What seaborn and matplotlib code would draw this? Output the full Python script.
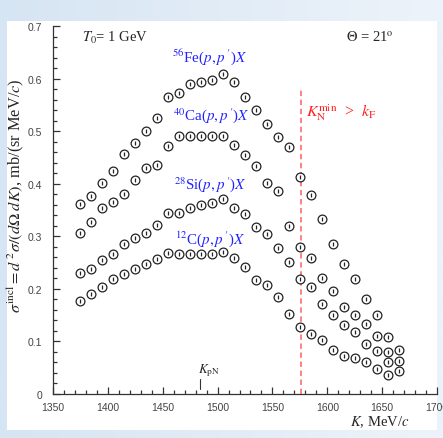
import pandas as pd
import seaborn as sb
import matplotlib.pyplot as plt
import numpy as np

from matplotlib.path import Path
from matplotlib.patches import Rectangle
from matplotlib.ticker import MultipleLocator, FuncFormatter

# K, MeV/c
K = [1375, 1385, 1395, 1405, 1415, 1425, 1435, 1445, 1455, 1465,
     1475, 1485, 1495, 1505, 1515, 1525, 1535, 1545, 1555, 1565,
     1575, 1585, 1595, 1605, 1615, 1625, 1635, 1645, 1655, 1665]

fe56 = [0.361, 0.377, 0.401, 0.425, 0.456, 0.478, 0.500, 0.525, 0.565, 0.573,
        0.589, 0.594, 0.597, 0.608, 0.594, 0.564, 0.540, 0.513, 0.488, 0.470,
        0.413, 0.378, 0.333, 0.285, 0.248, 0.218, 0.181, 0.151, 0.108, 0.084]
ca40 = [0.307, 0.328, 0.354, 0.365, 0.380, 0.407, 0.429, 0.436, 0.471, 0.491,
        0.491, 0.491, 0.491, 0.491, 0.474, 0.454, 0.433, 0.402, 0.386, 0.319,
        0.280, 0.258, 0.220, 0.195, 0.166, 0.150, 0.134, 0.110, 0.079, 0.062]
si28 = [0.230, 0.238, 0.255, 0.267, 0.285, 0.297, 0.307, 0.321, 0.344, 0.344,
        0.354, 0.359, 0.363, 0.370, 0.354, 0.342, 0.317, 0.305, 0.278, 0.252,
        0.218, 0.203, 0.172, 0.151, 0.132, 0.117, 0.096, 0.082, 0.061, 0.043]
c12 = [0.177, 0.190, 0.204, 0.219, 0.229, 0.237, 0.248, 0.256, 0.269, 0.267,
       0.267, 0.267, 0.267, 0.270, 0.258, 0.242, 0.216, 0.207, 0.184, 0.153,
       0.128, 0.115, 0.103, 0.084, 0.073, 0.068, 0.061, 0.048, 0.036]

nuclei = ["56Fe", "40Ca", "28Si", "12C"]
series_labels = [r"$^{56}$Fe($p,p\,'$)$X$", r"$^{40}$Ca($p,p\,'$)$X$",
                 r"$^{28}$Si($p,p\,'$)$X$", r"$^{12}$C($p,p\,'$)$X$"]
label_pos = [(1493, 0.643), (1494, 0.531), (1493, 0.400), (1493, 0.297)]

K_cut = 1576   # K_N^min > k_F
K_pN = 1484


def point_marker():
    """open circle with a small error bar inside"""
    circle = Path.unit_circle()
    bar = Path([(0, -0.45), (0, 0.45)], [Path.MOVETO, Path.LINETO])
    return Path.make_compound_path(circle, bar)


def main():
    rows = []
    for name, vals in zip(nuclei, [fe56, ca40, si28, c12]):
        for k, v in zip(K, vals):
            rows.append({"K": k, "sigma": v, "nucleus": name})
    df = pd.DataFrame(rows)

    sb.set_style("ticks")
    plt.rcParams["font.family"] = ["Liberation Sans", "DejaVu Sans"]
    plt.rcParams["font.serif"] = ["Liberation Serif", "DejaVu Serif"]
    plt.rcParams["mathtext.fontset"] = "stix"

    fig = plt.figure(figsize=(4.43, 4.39), dpi=100)

    # light blue frame with white panel
    bg = fig.add_axes([0, 0, 1, 1], zorder=-10)
    grad = np.linspace(0, 1, 256)[None, :]
    cmap = sb.blend_palette(["#d6e5f3", "#edf3fa"], as_cmap=True)
    bg.imshow(grad, aspect="auto", extent=[0, 1, 0, 1], cmap=cmap)
    bg.add_patch(Rectangle((7 / 443, 8 / 439), 430 / 443, 409 / 439,
                           color="white", lw=0))
    bg.set_xlim(0, 1)
    bg.set_ylim(0, 1)
    bg.axis("off")

    ax = fig.add_axes([53 / 443, 44 / 439, 384 / 443, 368 / 439])
    ax.set_facecolor("none")

    ax.axvline(K_cut, ymin=0, ymax=0.584 / 0.7, color="#ff7878",
               ls=(0, (3, 2)), lw=1.3, zorder=1)

    sb.scatterplot(data=df, x="K", y="sigma", marker=point_marker(), s=40,
                   color="white", edgecolor="#222222", linewidth=0.9,
                   ax=ax, zorder=3, legend=False)

    ax.set_xlim(1350, 1700)
    ax.set_ylim(0, 0.7)
    ax.set_xlabel("")
    ax.set_ylabel("")
    ax.xaxis.set_major_locator(MultipleLocator(50))
    ax.xaxis.set_minor_locator(MultipleLocator(10))
    ax.yaxis.set_major_locator(MultipleLocator(0.1))
    ax.yaxis.set_minor_locator(MultipleLocator(0.02))
    ax.yaxis.set_major_formatter(FuncFormatter(lambda v, p: "0" if abs(v) < 1e-9 else f"{v:.1f}"))
    ax.tick_params(which="both", direction="in", colors="#333333", width=0.9,
                   labelcolor="#444444", labelsize=7.5)
    ax.tick_params(which="major", length=5)
    ax.tick_params(which="minor", length=3)
    ax.tick_params(axis="x", pad=6)
    ax.tick_params(axis="y", pad=8)
    sb.despine(ax=ax)
    for s in ["left", "bottom"]:
        ax.spines[s].set_color("#333333")
        ax.spines[s].set_linewidth(0.9)

    serif = dict(family="serif")
    ax.text(1376, 0.679, r"$T_0$= 1 GeV", fontsize=10.5, va="center", ha="left", **serif)
    ax.text(1617, 0.679, r"$\Theta$ = 21$^{\rm o}$", fontsize=10.5, va="center", ha="left", **serif)

    for lbl, (x, y) in zip(series_labels, label_pos):
        ax.text(x, y, lbl, color="#2323ff", fontsize=10.8, ha="center", va="center", **serif)

    ax.text(1581, 0.538, r"$K_{\rm N}^{\rm min}$  >  $k_{\rm F}$", color="#ff2020",
            fontsize=11.5, ha="left", va="center", **serif)

    ax.text(1482, 0.046, r"$K_{\rm pN}$", fontsize=9.5, ha="left", va="center", **serif)
    ax.plot([K_pN, K_pN], [0.0095, 0.0285], color="#333333", lw=0.8)

    ax.text(1675, -0.051, r"$K$, MeV/$c$", fontsize=10.5, ha="right", va="center",
            clip_on=False, **serif)
    fig.text(16 / 443, (439 - 196) / 439,
             r"$\sigma^{\rm incl} = d^{\,2}\sigma/(d\Omega\;dK)$, mb/(sr MeV/$c$)",
             rotation=90, fontsize=11.8, ha="center", va="center", **serif)

    fig.savefig("out.png", dpi=100)


if __name__ == "__main__":
    main()
